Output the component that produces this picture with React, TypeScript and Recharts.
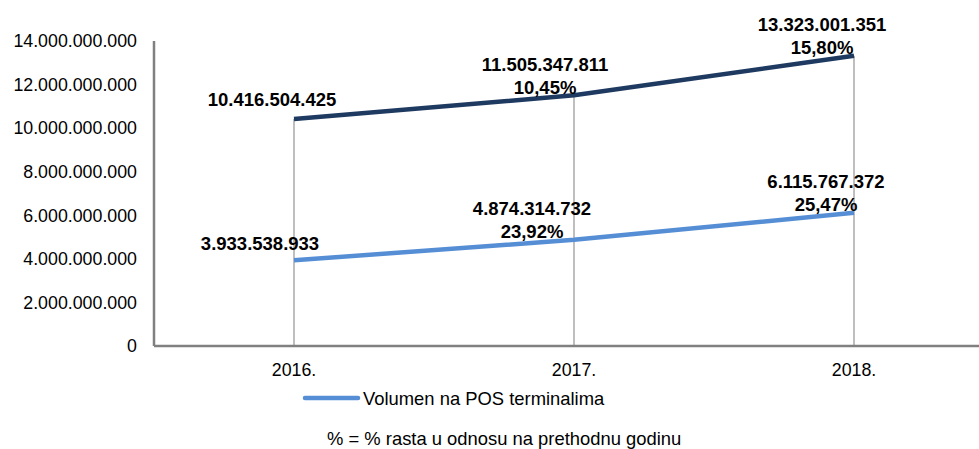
import React from "react";
import { LineChart, Line, XAxis, YAxis, ReferenceLine, LabelList } from "recharts";

const years = ["2016.", "2017.", "2018."];
const totalValues = [10416504425, 11505347811, 13323001351];
const totalGrowth = ["", "10,45%", "15,80%"];
const posValues = [3933538933, 4874314732, 6115767372];
const posGrowth = ["", "23,92%", "25,47%"];
const yTicks = [0, 2000000000, 4000000000, 6000000000, 8000000000, 10000000000, 12000000000, 14000000000];
const legendLabel = "Volumen na POS terminalima";
const footnote = "% = % rasta u odnosu na prethodnu godinu";

const data = years.map((y, i) => ({
  year: y,
  total: totalValues[i],
  pos: posValues[i],
}));

const FONT = "'Liberation Sans', Arial, sans-serif";
const FS = 17.8;
const LFS = 18.5;
const NFS = 18.4;
const DARK = "#1F3A60";
const LIGHT = "#558ED5";
const AXIS = "#808080";

const fmt = (v: number) => String(Math.round(v)).replace(/\B(?=(\d{3})+(?!\d))/g, ".");

const YTick = (props: any) => {
  const { y, payload } = props;
  return (
    <text x={137} y={y + 6.3} textAnchor="end" fontFamily={FONT} fontSize={FS} fill="#000">
      {fmt(payload.value)}
    </text>
  );
};

const XTick = (props: any) => {
  const { x, payload } = props;
  return (
    <text x={x} y={376} textAnchor="middle" fontFamily={FONT} fontSize={FS} fill="#000">
      {payload.value}
    </text>
  );
};

const makeLabel = (growth: string[], dxs: number[], singleDy: number) => (props: any) => {
  const { x, y, value, index } = props;
  const g = growth[index];
  const cx = x + dxs[index];
  if (!g) {
    return (
      <text x={cx} y={y - singleDy} textAnchor="middle" fontFamily={FONT} fontSize={LFS} fontWeight="bold" fill="#000">
        {fmt(value)}
      </text>
    );
  }
  return (
    <g>
      <text x={cx} y={y - 24.5} textAnchor="middle" fontFamily={FONT} fontSize={LFS} fontWeight="bold" fill="#000">
        {fmt(value)}
      </text>
      <text x={cx} y={y - 1.5} textAnchor="middle" fontFamily={FONT} fontSize={LFS} fontWeight="bold" fill="#000">
        {g}
      </text>
    </g>
  );
};

const totalLabel = makeLabel(totalGrowth, [-22, -29, -32], 13.5);
const posLabel = makeLabel(posGrowth, [-34, -42, -28], 10.5);

export default function App() {
  return (
    <div style={{ position: "absolute", left: 0, top: 0, width: 979, height: 449, overflow: "hidden", background: "#fff" }}>
      <LineChart width={1000} height={449} data={data} margin={{ top: 41, right: 6, bottom: 0, left: 0 }}>
        <XAxis
          dataKey="year"
          height={103}
          padding={{ left: 140, right: 140 }}
          axisLine={{ stroke: AXIS, strokeWidth: 2.5 }}
          tickLine={false}
          tick={<XTick />}
          interval={0}
        />
        <YAxis
          width={154}
          domain={[0, 14000000000]}
          ticks={yTicks}
          axisLine={{ stroke: AXIS, strokeWidth: 2.5 }}
          tickLine={false}
          tick={<YTick />}
          interval={0}
        />
        {years.map((y, i) => (
          <ReferenceLine
            key={y}
            segment={[{ x: y, y: 0 }, { x: y, y: totalValues[i] }]}
            stroke="#BFBFBF"
            strokeWidth={2}
          />
        ))}
        <Line dataKey="pos" stroke={LIGHT} strokeWidth={4.5} dot={false} isAnimationActive={false}>
          <LabelList dataKey="pos" content={posLabel} />
        </Line>
        <Line dataKey="total" stroke={DARK} strokeWidth={4.5} dot={false} isAnimationActive={false}>
          <LabelList dataKey="total" content={totalLabel} />
        </Line>
      </LineChart>
      <svg width={979} height={449} style={{ position: "absolute", left: 0, top: 0, pointerEvents: "none" }}>
        <line x1={305} y1={398} x2={358} y2={398} stroke={LIGHT} strokeWidth={4.5} strokeLinecap="round" />
        <text x={363} y={404.5} fontFamily={FONT} fontSize={NFS} fill="#000">{legendLabel}</text>
        <text x={327} y={444.5} fontFamily={FONT} fontSize={NFS} fill="#000">{footnote}</text>
      </svg>
    </div>
  );
}
